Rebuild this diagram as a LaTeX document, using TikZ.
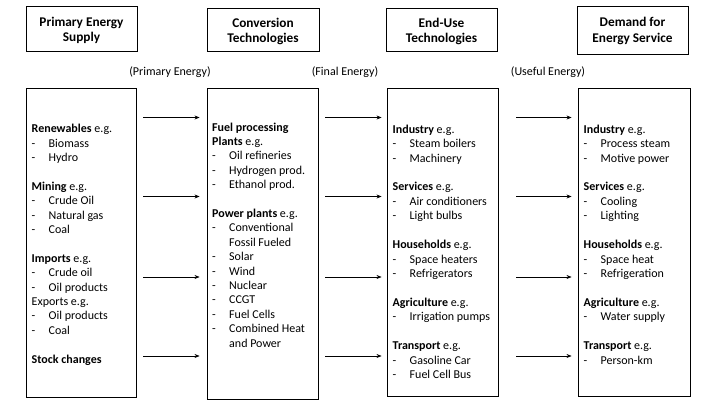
\documentclass[tikz,border=0pt]{standalone}
\usepackage{fontspec}
\setmainfont{Carlito}
\usetikzlibrary{arrows.meta}
\newcommand{\itm}[1]{\makebox[17pt][l]{-}#1}
\newcommand{\cnt}[1]{\hspace*{17pt}#1}
\begin{document}
\begin{tikzpicture}[x=1pt,y=-1pt,
  hdr/.style={draw, line width=0.9pt, inner sep=0pt},
  hdrtext/.style={inner sep=0pt, align=center, yshift=-2pt, font=\fontsize{13.3}{15.5}\selectfont\bfseries},
  bigbox/.style={draw, line width=0.9pt, inner sep=0pt},
  lbl/.style={font=\fontsize{12}{14}\selectfont, inner sep=0pt},
  body/.style={anchor=north west, inner sep=0pt, align=left, font=\fontsize{12}{#1}\selectfont},
  arr/.style={-{Stealth[length=5pt,width=4pt]}, line width=0.6pt}]
\useasboundingbox[fill=white] (0,0) rectangle (720,405);

% headers
\node[hdr, minimum width=111pt, minimum height=45pt, label={[hdrtext]center:{Primary Energy\\Supply}}] (h1) at (81.5,28.5) {};
\node[hdr, minimum width=112pt, minimum height=43pt, label={[hdrtext]center:{Conversion\\Technologies}}] (h2) at (263,29.5) {};
\node[hdr, minimum width=111pt, minimum height=43pt, label={[hdrtext]center:{End-Use\\Technologies}}] (h3) at (441.5,29.5) {};
\node[hdr, minimum width=111pt, minimum height=48pt, label={[hdrtext, yshift=1pt]center:{Demand for\\Energy Service}}] (h4) at (632.5,30) {};

% energy labels
\node[lbl] (l1) at (170,72) {(Primary Energy)};
\node[lbl] (l2) at (345,72) {(Final Energy)};
\node[lbl] (l3) at (548,72) {(Useful Energy)};

% big boxes
\node[bigbox, minimum width=110pt, minimum height=309pt] (b1) at (81,242.5) {};
\node[bigbox, minimum width=111pt, minimum height=311pt] (b2) at (262.5,243.5) {};
\node[bigbox, minimum width=111pt, minimum height=308pt] (b3) at (442.5,242) {};
\node[bigbox, minimum width=112pt, minimum height=308pt] (b4) at (634,242) {};

% texts
\node[body=14.4pt] (t1) at (31.5,124) {\textbf{Renewables} e.g.\\ \itm{Biomass}\\ \itm{Hydro}\\[14.4pt]
\textbf{Mining} e.g.\\ \itm{Crude Oil}\\ \itm{Natural gas}\\ \itm{Coal}\\[14.4pt]
\textbf{Imports} e.g.\\ \itm{Crude oil}\\ \itm{Oil products}\\ Exports e.g.\\ \itm{Oil products}\\ \itm{Coal}\\[14.4pt]
\textbf{Stock changes}};

\node[body=14.4pt] (t2) at (212,122.5) {\textbf{Fuel processing}\\ \textbf{Plants} e.g.\\ \itm{Oil refineries}\\ \itm{Hydrogen prod.}\\ \itm{Ethanol prod.}\\[14.4pt]
\textbf{Power plants} e.g.\\ \itm{Conventional}\\ \cnt{Fossil Fueled}\\ \itm{Solar}\\ \itm{Wind}\\ \itm{Nuclear}\\ \itm{CCGT}\\ \itm{Fuel Cells}\\ \itm{Combined Heat}\\ \cnt{and Power}};

\node[body=14.45pt] (t3) at (392.5,124.5) {\textbf{Industry} e.g.\\ \itm{Steam boilers}\\ \itm{Machinery}\\[14.45pt]
\textbf{Services} e.g.\\ \itm{Air conditioners}\\ \itm{Light bulbs}\\[14.45pt]
\textbf{Households} e.g.\\ \itm{Space heaters}\\ \itm{Refrigerators}\\[14.45pt]
\textbf{Agriculture} e.g.\\ \itm{Irrigation pumps}\\[14.45pt]
\textbf{Transport} e.g.\\ \itm{Gasoline Car}\\ \itm{Fuel Cell Bus}};

\node[body=14.45pt] (t4) at (583.5,124.5) {\textbf{Industry} e.g.\\ \itm{Process steam}\\ \itm{Motive power}\\[14.45pt]
\textbf{Services} e.g.\\ \itm{Cooling}\\ \itm{Lighting}\\[14.45pt]
\textbf{Households} e.g.\\ \itm{Space heat}\\ \itm{Refrigeration}\\[14.45pt]
\textbf{Agriculture} e.g.\\ \itm{Water supply}\\[14.45pt]
\textbf{Transport} e.g.\\ \itm{Person-km}};

% arrow rows
\coordinate (r1) at (0,117.5);
\coordinate (r2) at (0,196.5);
\coordinate (r3) at (0,277);
\coordinate (r4) at (0,356);
\foreach \r in {r1,r2,r3,r4}{
  \draw[arr, shorten <=7pt, shorten >=7pt] (b1.east |- \r) -- (b2.west |- \r);
  \draw[arr, shorten <=7pt, shorten >=5pt] (b2.east |- \r) -- (b3.west |- \r);
  \draw[arr, shorten <=18pt, shorten >=6pt] (b3.east |- \r) -- (b4.west |- \r);
}
\end{tikzpicture}
\end{document}
